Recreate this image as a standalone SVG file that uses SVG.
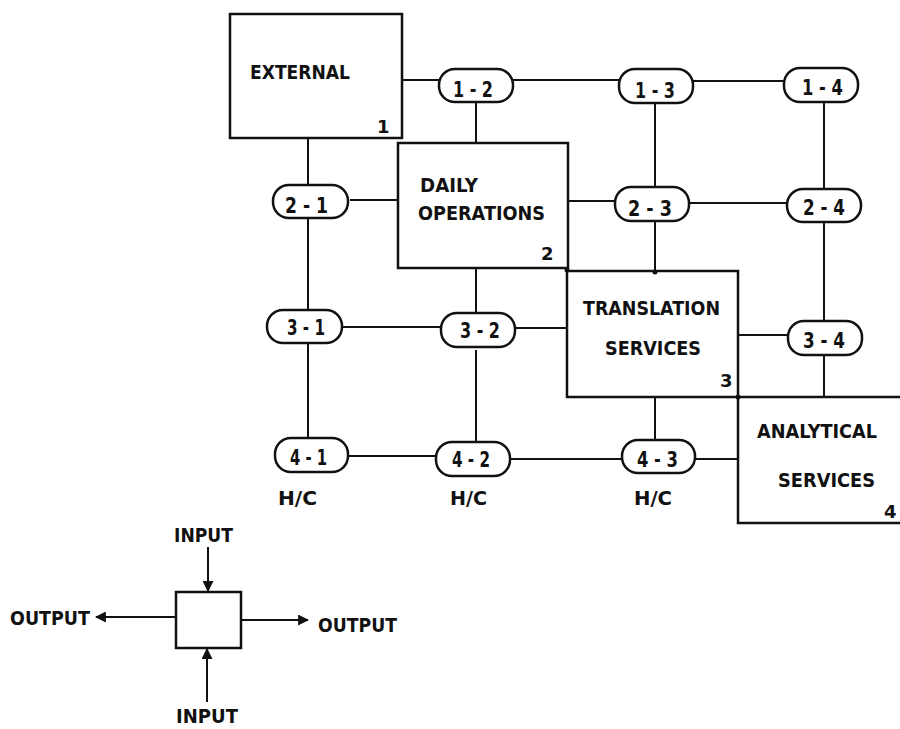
<svg xmlns="http://www.w3.org/2000/svg" width="900" height="729" viewBox="0 0 900 729">
<style>
.b{fill:none;stroke:#111;stroke-width:2.5}
.p{fill:#fff;stroke:#111;stroke-width:2.5}
.c{fill:none;stroke:#111;stroke-width:2}
text{font-family:"DejaVu Sans","Liberation Sans",sans-serif;font-weight:bold;fill:#111;font-size:20px}
.pl{font-size:22px}
.n{font-size:18px}
</style>
<defs>
<marker id="ah" viewBox="0 0 10 10" refX="9" refY="5" markerWidth="5.5" markerHeight="5.5" orient="auto">
<path d="M0,0 L10,5 L0,10 z" fill="#111"/>
</marker>
</defs>
<rect width="900" height="729" fill="#fff"/>
<g id="connectors">
<path class="c" d="M308,138V185M308,218V310M308,343V438"/>
<path class="c" d="M476,102V143M476,268V313M476,350V442"/>
<path class="c" d="M655,103V187M655,221V272M655,397V440"/>
<path class="c" d="M824,102V189M824,222V321M824,355V397"/>
<path class="c" d="M402,80H439M513,80H619M693,81H784"/>
<path class="c" d="M350,200H398M568,201H615M689,203H787"/>
<path class="c" d="M342,327H441M515,328H567M738,335H788"/>
<path class="c" d="M348,456H436M510,459H622M695,459H738"/>
<circle cx="567" cy="270" r="2.5" fill="#111"/>
<circle cx="655" cy="272" r="2.5" fill="#111"/>
<circle cx="738" cy="397" r="2.5" fill="#111"/>
</g>
<g id="n1"><rect class="b" x="230" y="14" width="172" height="124"/><text x="250" y="79" textLength="100" lengthAdjust="spacingAndGlyphs">EXTERNAL</text><text class="n" x="377" y="133">1</text></g>
<g id="n2"><rect class="b" x="398" y="143" width="170" height="125"/><text x="420" y="192" textLength="58" lengthAdjust="spacingAndGlyphs">DAILY</text><text x="418" y="220" textLength="127" lengthAdjust="spacingAndGlyphs">OPERATIONS</text><text class="n" x="541" y="260">2</text></g>
<g id="n3"><rect class="b" x="567" y="271" width="171" height="126"/><text x="583" y="315" textLength="137" lengthAdjust="spacingAndGlyphs">TRANSLATION</text><text x="605" y="355" textLength="96" lengthAdjust="spacingAndGlyphs">SERVICES</text><text class="n" x="720" y="387">3</text></g>
<g id="n4"><path class="b" d="M900,397H738V523H900"/><text x="757" y="438" textLength="120" lengthAdjust="spacingAndGlyphs">ANALYTICAL</text><text x="778" y="487" textLength="97" lengthAdjust="spacingAndGlyphs">SERVICES</text><text class="n" x="884" y="518">4</text></g>
<g id="p12"><rect class="p" x="439" y="69" width="74" height="33" rx="16"/><text class="pl" x="453" y="97" textLength="40" lengthAdjust="spacingAndGlyphs">1 - 2</text></g>
<g id="p13"><rect class="p" x="619" y="69" width="74" height="34" rx="16"/><text class="pl" x="635" y="98" textLength="40" lengthAdjust="spacingAndGlyphs">1 - 3</text></g>
<g id="p14"><rect class="p" x="784" y="68" width="74" height="34" rx="16"/><text class="pl" x="802" y="95" textLength="41" lengthAdjust="spacingAndGlyphs">1 - 4</text></g>
<g id="p21"><rect class="p" x="273" y="185" width="75" height="33" rx="16"/><text class="pl" x="285" y="213" textLength="43" lengthAdjust="spacingAndGlyphs">2 - 1</text></g>
<g id="p23"><rect class="p" x="615" y="187" width="74" height="34" rx="16"/><text class="pl" x="628" y="216" textLength="44" lengthAdjust="spacingAndGlyphs">2 - 3</text></g>
<g id="p24"><rect class="p" x="787" y="189" width="74" height="33" rx="16"/><text class="pl" x="803" y="215" textLength="42" lengthAdjust="spacingAndGlyphs">2 - 4</text></g>
<g id="p31"><rect class="p" x="267" y="310" width="75" height="33" rx="16"/><text class="pl" x="287" y="335" textLength="38" lengthAdjust="spacingAndGlyphs">3 - 1</text></g>
<g id="p32"><rect class="p" x="441" y="313" width="74" height="34" rx="16"/><text class="pl" x="460" y="338" textLength="40" lengthAdjust="spacingAndGlyphs">3 - 2</text></g>
<g id="p34"><rect class="p" x="788" y="321" width="74" height="34" rx="16"/><text class="pl" x="803" y="348" textLength="42" lengthAdjust="spacingAndGlyphs">3 - 4</text></g>
<g id="p41"><rect class="p" x="275" y="438" width="73" height="34" rx="16"/><text class="pl" x="290" y="465" textLength="37" lengthAdjust="spacingAndGlyphs">4 - 1</text></g>
<g id="p42"><rect class="p" x="436" y="442" width="74" height="34" rx="16"/><text class="pl" x="452" y="467" textLength="38" lengthAdjust="spacingAndGlyphs">4 - 2</text></g>
<g id="p43"><rect class="p" x="622" y="440" width="73" height="33" rx="16"/><text class="pl" x="637" y="467" textLength="41" lengthAdjust="spacingAndGlyphs">4 - 3</text></g>
<g id="hc"><text x="278" y="505" textLength="39" lengthAdjust="spacingAndGlyphs">H/C</text><text x="450" y="505" textLength="37" lengthAdjust="spacingAndGlyphs">H/C</text><text x="634" y="505" textLength="38" lengthAdjust="spacingAndGlyphs">H/C</text></g>
<g id="legend">
<rect class="b" x="176" y="592" width="65" height="56"/>
<path class="c" d="M208,547V591" marker-end="url(#ah)"/>
<path class="c" d="M207,702V649" marker-end="url(#ah)"/>
<path class="c" d="M176,617H96" marker-end="url(#ah)"/>
<path class="c" d="M241,620H308" marker-end="url(#ah)"/>
<text x="174" y="542" textLength="59" lengthAdjust="spacingAndGlyphs">INPUT</text>
<text x="176" y="723" textLength="62" lengthAdjust="spacingAndGlyphs">INPUT</text>
<text x="10" y="625" textLength="80" lengthAdjust="spacingAndGlyphs">OUTPUT</text>
<text x="318" y="632" textLength="79" lengthAdjust="spacingAndGlyphs">OUTPUT</text>
</g>
</svg>
